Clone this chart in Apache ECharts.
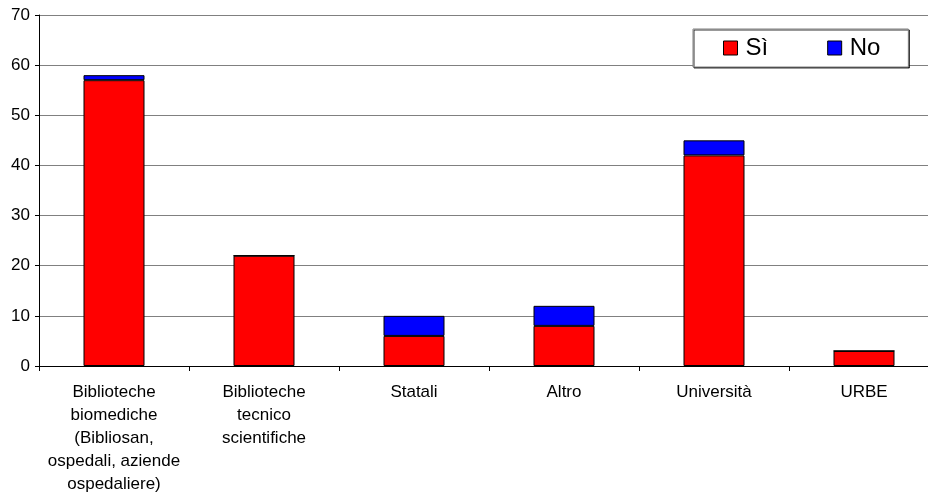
<!DOCTYPE html>
<html>
<head>
<meta charset="utf-8">
<script src="https://cdn.jsdelivr.net/npm/echarts@6/dist/echarts.min.js"></script>
<style>
html,body{margin:0;padding:0;background:#fff;overflow:hidden;}
#chart{width:950px;height:501px;}
</style>
</head>
<body>
<div id="chart"></div>
<script>
const categories = [
  "Biblioteche\nbiomediche\n(Bibliosan,\nospedali, aziende\nospedaliere)",
  "Biblioteche\ntecnico\nscientifiche",
  "Statali",
  "Altro",
  "Università",
  "URBE"
];
const seriesNames = ["Sì", "No"];
const valuesSi = [57, 22, 6, 8, 42, 3];
const valuesNo = [1, 0, 4, 4, 3, 0];
const yTicks = { min: 0, max: 70, interval: 10 };

const font = "Liberation Sans, Arial, sans-serif";
const chart = echarts.init(document.getElementById('chart'), null, { renderer: 'canvas' });
chart.setOption({
  animation: false,
  backgroundColor: '#ffffff',
  grid: { left: 39, top: 15, width: 900, height: 351, containLabel: false },
  legend: {
    left: 693, top: 29,
    orient: 'horizontal',
    data: seriesNames,
    icon: 'rect',
    itemWidth: 14, itemHeight: 14,
    itemGap: 59,
    padding: [7, 28, 7, 30],
    backgroundColor: '#ffffff',
    borderColor: '#808080',
    borderWidth: 1,
    borderRadius: 0,
    shadowColor: 'rgba(0,0,0,0.8)',
    shadowOffsetX: 1,
    shadowOffsetY: 1,
    shadowBlur: 0,
    textStyle: { fontFamily: font, fontSize: 24, color: '#000', padding: [0, 0, 0, 3] },
    itemStyle: { borderColor: '#000', borderWidth: 1 }
  },
  xAxis: {
    type: 'category',
    data: categories,
    boundaryGap: true,
    axisLine: { show: true, lineStyle: { color: '#000', width: 1 } },
    axisTick: { show: true, length: 5, alignWithLabel: false, lineStyle: { color: '#000' } },
    axisLabel: { interval: 0, margin: 15, fontFamily: font, fontSize: 17, lineHeight: 23, color: '#000', align: 'center' },
    splitLine: { show: false }
  },
  yAxis: {
    type: 'value',
    min: yTicks.min, max: yTicks.max, interval: yTicks.interval,
    axisLine: { show: true, lineStyle: { color: '#000', width: 1 } },
    axisTick: { show: true, length: 4, lineStyle: { color: '#000' } },
    axisLabel: { margin: 9, fontFamily: font, fontSize: 17, color: '#000' },
    splitLine: { show: true, lineStyle: { color: '#808080', width: 1 } }
  },
  series: [
    {
      name: seriesNames[0], type: 'bar', stack: 'total', barWidth: 61,
      data: valuesSi,
      itemStyle: { color: '#ff0000', borderColor: '#000', borderWidth: 1 }
    },
    {
      name: seriesNames[1], type: 'bar', stack: 'total', barWidth: 61,
      data: valuesNo,
      itemStyle: { color: '#0000ff', borderColor: '#000', borderWidth: 1 }
    }
  ]
});
</script>
</body>
</html>
